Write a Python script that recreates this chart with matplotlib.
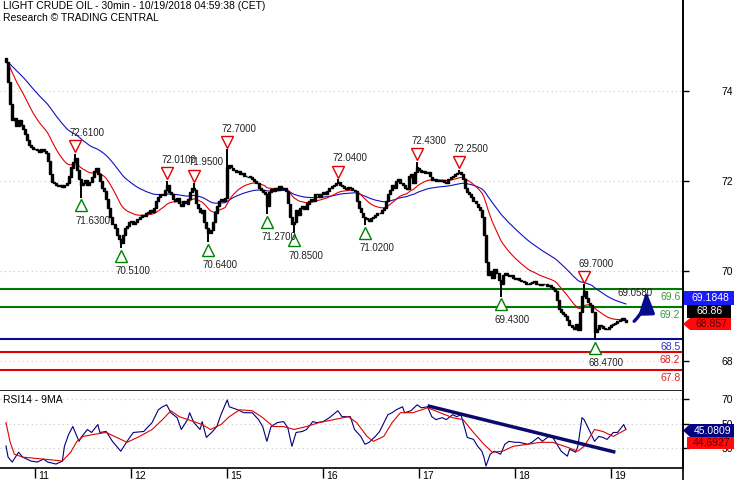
import numpy as np
import pandas as pd
import matplotlib
matplotlib.use("Agg")
import matplotlib.pyplot as plt
from matplotlib.patches import Polygon, FancyArrowPatch
from matplotlib.lines import Line2D

plt.rcParams['font.family'] = ['Liberation Sans', 'DejaVu Sans']

# ---------------- data ----------------
first_open = 74.73
close = [
    74.65, 74.20, 73.70, 73.35, 73.40, 73.22, 73.35, 73.25, 73.15, 73.05,
    72.90, 72.80, 72.75, 72.70, 72.72, 72.68, 72.65, 72.70, 72.66, 72.62,
    72.45, 72.15, 71.98, 71.95, 71.90, 71.88, 71.92, 71.86, 71.90, 71.95,
    72.10, 72.30, 72.42, 72.50, 72.25, 72.05, 71.90, 71.95, 72.02, 71.92,
    71.98, 72.10, 72.22, 72.28, 72.15, 72.00, 71.85, 71.78, 71.60, 71.40,
    71.20, 71.05, 70.95, 70.80, 70.70, 70.62, 70.80, 70.95, 71.00, 71.08,
    71.12, 71.05, 71.10, 71.15, 71.20, 71.25, 71.22, 71.28, 71.30, 71.35,
    71.32, 71.40, 71.55, 71.65, 71.70, 71.68, 71.80, 71.90, 71.75, 71.70,
    71.60, 71.55, 71.62, 71.50, 71.45, 71.55, 71.50, 71.60, 71.75, 71.85,
    71.80, 71.50, 71.40, 71.30, 71.35, 71.10, 70.95, 70.85, 70.90, 71.10,
    71.30, 71.45, 71.55, 71.60, 71.55, 71.62, 72.30, 72.35, 72.30, 72.25,
    72.20, 72.22, 72.15, 72.18, 72.12, 72.10, 72.08, 72.10, 72.05, 72.00,
    71.95, 71.85, 71.80, 71.75, 71.70, 71.45, 71.75, 71.82, 71.78, 71.85,
    71.80, 71.88, 71.82, 71.85, 71.78, 71.50, 71.20, 71.05, 71.10, 71.35,
    71.25, 71.40, 71.45, 71.38, 71.50, 71.55, 71.60, 71.55, 71.70, 71.72,
    71.65, 71.70, 71.75, 71.72, 71.78, 71.85, 71.88, 71.90, 71.95, 71.98,
    71.92, 71.88, 71.85, 71.82, 71.86, 71.84, 71.80, 71.78, 71.55, 71.40,
    71.30, 71.20, 71.18, 71.15, 71.12, 71.18, 71.20, 71.25, 71.30, 71.28,
    71.35, 71.40, 71.55, 71.70, 71.80, 71.90, 71.85, 72.00, 72.05, 71.95,
    71.90, 71.85, 71.82, 72.10, 72.15, 71.95, 72.20, 72.30, 72.25, 72.20,
    72.22, 72.18, 72.20, 72.10, 72.02, 72.05, 72.00, 72.03, 72.00, 72.02,
    71.98, 71.95, 72.05, 72.10, 72.12, 72.15, 72.18, 72.20, 72.15, 72.05,
    71.85, 71.75, 71.70, 71.65, 71.55, 71.50, 71.42, 71.35, 71.20, 70.80,
    70.20, 69.90, 70.00, 69.85, 70.05, 69.95, 69.80, 69.70, 69.90, 69.95,
    69.92, 69.88, 69.90, 69.85, 69.82, 69.84, 69.80, 69.78, 69.75, 69.72,
    69.70, 69.74, 69.76, 69.78, 69.72, 69.70, 69.68, 69.72, 69.70, 69.66,
    69.68, 69.65, 69.60, 69.55, 69.35, 69.15, 69.10, 69.05, 69.00, 68.90,
    68.80, 68.75, 68.70, 68.82, 68.68, 69.10, 69.45, 69.55, 69.40, 69.30,
    69.25, 69.10, 68.65, 68.72, 68.80, 68.78, 68.74, 68.70, 68.72, 68.76,
    68.80, 68.82, 68.85, 68.88, 68.92, 68.95, 68.90, 68.86,
]

day_labels = ['11', '12', '15', '16', '17', '18', '19']
day_start_bars = [14, 60, 106, 152, 198, 244, 290]

high_idx = [33, 77, 90, 106, 159, 197, 217, 277]
high_vals = [72.61, 72.01, 71.95, 72.70, 72.04, 72.43, 72.25, 69.70]
low_idx = [36, 55, 97, 125, 138, 172, 237, 282]
low_vals = [71.63, 70.51, 70.64, 71.27, 70.85, 71.02, 69.43, 68.47]

# RSI14 : bar index, value
rsi_bar = [0, 1, 3, 6, 8, 12, 15, 18, 20, 24, 27, 28, 30, 32, 33, 35, 36, 39,
           41, 44, 45, 48, 51, 55, 58, 61, 66, 70, 73, 75, 77, 79, 82, 84, 87,
           88, 90, 93, 94, 96, 99, 101, 103, 106, 107, 111, 114, 118, 121,
           123, 125, 127, 130, 133, 135, 137, 139, 142, 144, 147, 149, 152,
           155, 159, 161, 165, 167, 170, 172, 174, 177, 179, 183, 185, 187,
           190, 191, 194, 197, 199, 202, 204, 206, 209, 211, 214, 216, 218,
           220, 221, 224, 226, 228, 229, 230, 232, 234, 237, 239, 241, 244,
           246, 250, 252, 255, 257, 260, 262, 264, 266, 269, 270, 273, 274,
           276, 277, 280, 282, 284, 286, 288, 291, 293, 296, 297]
rsi_val = [31.9, 22.8, 18.8, 26.8, 22.8, 19.6, 18.8, 21.2, 18.8, 17.2, 19.6,
           31.6, 41.2, 47.6, 43.6, 35.6, 38.8, 45.2, 42.8, 49.2, 42.8, 43.6,
           35.6, 27.6, 35.6, 42.8, 43.6, 50.8, 61.2, 63.6, 65.2, 58.8, 54.8,
           45.2, 53.2, 58.8, 50.8, 45.2, 51.6, 38.8, 43.6, 47.6, 57.2, 69.2,
           63.6, 61.2, 58.8, 58.8, 53.2, 47.6, 35.6, 47.6, 50.8, 51.6, 46.8,
           31.6, 42.8, 43.6, 45.2, 51.6, 50.8, 51.6, 54.8, 60.4, 55.6, 55.6,
           45.2, 39.6, 33.2, 34.8, 39.6, 43.6, 57.2, 58.8, 61.2, 63.6, 58.8,
           60.4, 65.2, 62.8, 63.6, 55.6, 53.2, 54.8, 53.2, 57.2, 55.6, 57.2,
           45.2, 38.8, 37.2, 31.6, 27.6, 22.8, 15.6, 25.2, 27.6, 25.2, 33.2,
           35.6, 34.8, 34.8, 33.2, 34.8, 38.8, 35.6, 39.6, 38.8, 33.2, 27.6,
           23.6, 29.2, 26.8, 31.6, 54.8, 53.2, 42.8, 35.6, 39.6, 38.8, 37.2,
           42.8, 42.8, 49.2, 45.2]
# 9-period MA of RSI
rsima_bar = [0, 2, 4, 8, 13, 18, 23, 27, 31, 34, 37, 42, 48, 53, 58, 64, 70,
             75, 79, 83, 90, 94, 98, 103, 107, 112, 118, 123, 128, 133, 138,
             144, 150, 157, 164, 168, 173, 176, 181, 185, 189, 195, 202, 208,
             214, 219, 224, 229, 233, 238, 243, 250, 256, 262, 269, 274, 277,
             282, 286, 291, 297]
rsima_val = [50.8, 34.8, 25.2, 22.8, 22.0, 21.2, 20.4, 19.6, 26.8, 35.6, 39.6,
             41.2, 42.8, 38.8, 34.8, 39.6, 45.2, 53.2, 60.4, 55.6, 51.6, 49.2,
             45.2, 49.2, 55.6, 61.2, 60.4, 54.8, 47.6, 47.6, 45.2, 47.6, 50.8,
             53.2, 55.6, 50.8, 39.6, 35.6, 39.6, 50.8, 58.8, 58.8, 62.8, 58.8,
             54.8, 53.2, 42.8, 33.2, 26.8, 27.6, 31.6, 33.2, 34.8, 34.8, 30.8,
             27.6, 31.6, 45.2, 43.6, 39.6, 45.2]

level_vals = [69.6, 69.2, 68.5, 68.2, 67.8]
level_colors = ['#007a00', '#007a00', '#0a0a8c', '#e00000', '#e00000']
level_text_colors = ['#3c963c', '#3c963c', '#3030c8', '#e02020', '#e02020']

price_ticks = [74, 72, 70, 68]
rsi_ticks = [70, 50, 30]

tag_main = ['69.1848', '68.86', '68.857']
tag_rsi = ['45.0809', '44.6927']
target_label = '69.0580'
target_pos = (301.5, 69.51)
arrow_from = (300, 68.84)
arrow_to = (306.7, 69.62)
rsi_trend_x = [202, 292]
rsi_trend_y = [64.4, 26.8]

# ---------------- derived ----------------
n = len(close)
x = np.arange(n)
opens = [first_open] + close[:-1]
highs = [max(o, c) for o, c in zip(opens, close)]
lows = [min(o, c) for o, c in zip(opens, close)]
for i, v in zip(high_idx, high_vals):
    highs[i] = v
for i, v in zip(low_idx, low_vals):
    lows[i] = v

s = pd.Series(close)
ema_fast = s.ewm(span=20, adjust=False).mean()
ema_slow = s.ewm(span=50, adjust=False).mean()

# ---------------- figure ----------------
W, H = 735, 480
fig = plt.figure(figsize=(W / 100, H / 100), dpi=100)


def fx(px):
    return px / W


def fy(py):
    return 1 - py / H


axR = 683
ax = fig.add_axes([0, fy(391), fx(axR), 391 / H])
ax2 = fig.add_axes([0, fy(468), fx(axR), 77 / H])

xlim = (-6 / 2.087, (axR - 6) / 2.087)
ax.set_xlim(*xlim)
ax2.set_xlim(*xlim)
ax.set_ylim(69.6 - 102 / 45, 69.6 + 289 / 45)
ax2.set_ylim(14, 76.4)

for a in (ax, ax2):
    a.spines['left'].set_visible(False)
    a.spines['top'].set_visible(False)
    a.spines['right'].set_color('black')
    a.spines['bottom'].set_color('black')
    a.spines['right'].set_linewidth(1.2)
    a.spines['bottom'].set_linewidth(1.2)
    a.yaxis.tick_right()
    a.tick_params(axis='y', direction='out', length=4, width=1, pad=24,
                  labelsize=7.5, colors='black')
    a.grid(axis='y', color='#c8c8c8', linestyle=(0, (1, 3)), linewidth=0.8)
    a.set_axisbelow(True)

ax.set_xticks([])
ax.set_yticks(price_ticks)
ax.set_yticklabels([str(t) for t in price_ticks])
ax2.set_yticks(rsi_ticks)
ax2.set_yticklabels([str(t) for t in rsi_ticks])
ax2.set_xticks(day_start_bars)
ax2.set_xticklabels([])
ax2.tick_params(axis='x', direction='out', length=7, width=1)
for d, b in zip(day_labels, day_start_bars):
    ax2.annotate(d, xy=(b, 0), xycoords=('data', 'axes fraction'),
                 xytext=(2, -2), textcoords='offset points',
                 ha='left', va='top', fontsize=7.5, annotation_clip=False)

# levels
for v, c, tc in zip(level_vals, level_colors, level_text_colors):
    ax.axhline(v, color=c, lw=1.5, zorder=2)
    ax.annotate(f'{v}', xy=(0.996, v), xycoords=('axes fraction', 'data'),
                xytext=(0, -2.5), textcoords='offset points',
                ha='right', va='top', fontsize=7.5, color=tc)

# moving averages
ax.plot(x, ema_slow, color='#1010c0', lw=0.8, zorder=3)
ax.plot(x, ema_fast, color='#e00000', lw=0.8, zorder=3)

# candles
ax.vlines(x, lows, highs, color='black', lw=1.4, zorder=4)
body_h = np.array(close) - np.array(opens)
ax.bar(x, body_h, bottom=opens, width=0.95, color='black',
       edgecolor='black', linewidth=1.0, zorder=4)

# high / low markers
for i, v in zip(high_idx, high_vals):
    ax.plot([i], [v + 0.17], marker='v', ms=8, mfc='white', mec='#e00000',
            mew=1.0, zorder=5)
    ax.annotate(f'{v:.4f}', xy=(i, v), xytext=(8.5, 15),
                textcoords='offset points', ha='center', va='center',
                fontsize=7, color='#222222', zorder=6)
for i, v in zip(low_idx, low_vals):
    ax.plot([i], [v - 0.17], marker='^', ms=8, mfc='white', mec='#008000',
            mew=1.0, zorder=5)
    ax.annotate(f'{v:.4f}', xy=(i, v), xytext=(8.5, -16.5),
                textcoords='offset points', ha='center', va='center',
                fontsize=7, color='#222222', zorder=6)

ax.text(target_pos[0], target_pos[1], target_label, ha='center', va='center',
        fontsize=7, color='#222222', zorder=6)
arr = FancyArrowPatch(arrow_from, arrow_to, connectionstyle='arc3,rad=0.25',
                      arrowstyle='-|>,head_length=6.5,head_width=2.3',
                      color='#0a0a8c', lw=2.4, mutation_scale=2, zorder=7)
ax.add_patch(arr)

# RSI
ax2.plot(rsi_bar, rsi_val, color='#000080', lw=0.8, zorder=3)
ax2.plot(rsima_bar, rsima_val, color='#e00000', lw=0.8, zorder=3)
ax2.plot(rsi_trend_x, rsi_trend_y, color='#0a0a6e', lw=2.5, zorder=4,
         solid_capstyle='butt')
ax2.text(0.005, 0.88, 'RSI14 - 9MA', transform=ax2.transAxes,
         ha='left', va='center', fontsize=7.5)

# titles
fig.text(fx(3), fy(6), 'LIGHT CRUDE OIL - 30min - 10/19/2018 04:59:38 (CET)',
         ha='left', va='center', fontsize=7.5)
fig.text(fx(3), fy(18), 'Research \u00a9 TRADING CENTRAL',
         ha='left', va='center', fontsize=7.5)

# right full-height axis line
fig.add_artist(Line2D([fx(axR), fx(axR)], [0, 1], color='black', lw=1.2,
                      transform=fig.transFigure))


def tag(x0, y0, x1, y1, text, fc, tc, pointed=False):
    if pointed:
        ym = (y0 + y1) / 2
        pts = [(x0, ym), (x0 + 7, y0), (x1, y0), (x1, y1), (x0 + 7, y1)]
    else:
        pts = [(x0, y0), (x1, y0), (x1, y1), (x0, y1)]
    poly = Polygon([(fx(a), fy(b)) for a, b in pts], closed=True,
                   transform=fig.transFigure, facecolor=fc, edgecolor='none',
                   zorder=10)
    fig.add_artist(poly)
    cx = (x0 + (7 if pointed else 0) + x1) / 2 + 1
    fig.text(fx(cx), fy((y0 + y1) / 2), text, ha='center', va='center',
             fontsize=7.5, color=tc, zorder=11)


tag(684, 291, 734, 305, tag_main[0], '#1a1aff', 'white')
tag(687, 305, 731, 318, tag_main[1], 'black', 'white')
tag(683, 318, 731, 330, tag_main[2], '#ff0a0a', '#5a0000', pointed=True)
tag(683, 424, 734, 437, tag_rsi[0], '#000080', 'white', pointed=True)
tag(687, 437, 734, 449, tag_rsi[1], '#ff0a0a', '#5a0000')

fig.savefig('out.png', dpi=100)
